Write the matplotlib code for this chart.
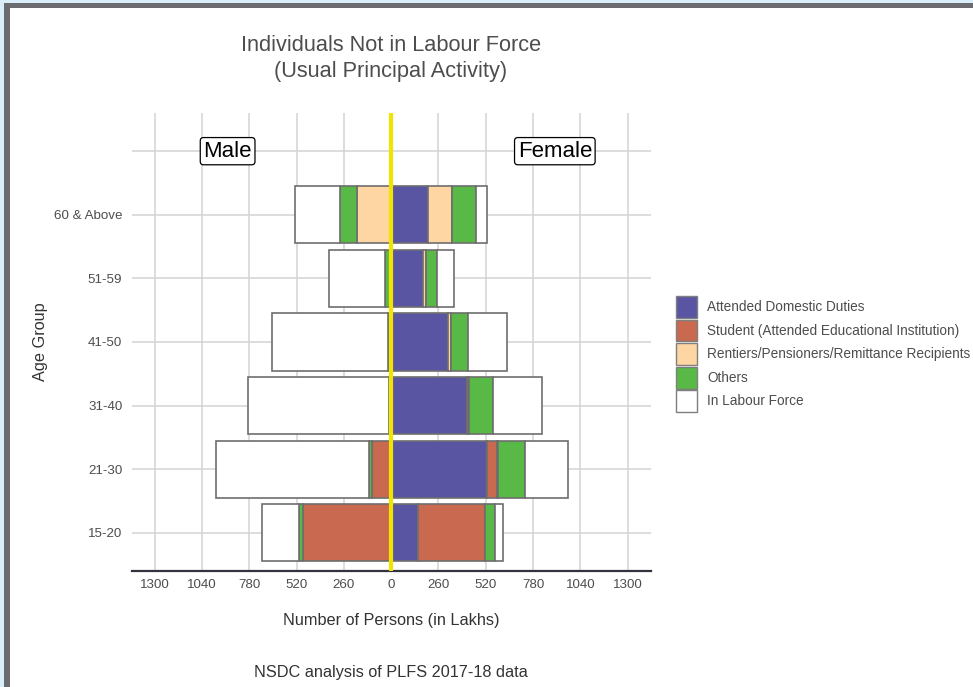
import matplotlib.pyplot as plt
from matplotlib.patches import Patch, Rectangle
import numpy as np

plt.rcParams['font.family'] = ['Liberation Sans', 'DejaVu Sans']

# Age groups, bottom to top
age_groups = ['15-20', '21-30', '31-40', '41-50', '51-59', '60 & Above']

categories = ['Attended Domestic Duties',
              'Student (Attended Educational Institution)',
              'Rentiers/Pensioners/Remittance Recipients',
              'Others',
              'In Labour Force']
colors = ['#5a55a3', '#c96a50', '#fdd6a4', '#59b947', '#ffffff']

# Number of persons (lakhs)
male_domestic = [5, 6, 6, 6, 8, 5]
male_student = [480, 100, 0, 0, 0, 0]
male_rentiers = [0, 0, 0, 0, 0, 183]
male_others = [21, 19, 7, 14, 25, 92]
male_labour = [205, 839, 777, 636, 312, 252]

female_domestic = [150, 526, 416, 315, 174, 205]
female_student = [367, 58, 11, 0, 0, 0]
female_rentiers = [0, 5, 0, 13, 15, 129]
female_others = [53, 146, 132, 97, 62, 133]
female_labour = [44, 240, 271, 214, 95, 59]

xticks = [-1300, -1040, -780, -520, -260, 0, 260, 520, 780, 1040, 1300]

male = [male_domestic, male_student, male_rentiers, male_others, male_labour]
female = [female_domestic, female_student, female_rentiers, female_others, female_labour]

fig = plt.figure(figsize=(9.73, 6.87), dpi=100)

# screenshot frame: light blue edge with dark grey bands top and left
W, H = 973, 687
fig.patches.append(Rectangle((0, 0), 1, 1, transform=fig.transFigure,
                             facecolor='#d9eef8', edgecolor='none', zorder=-10))
fig.patches.append(Rectangle((4 / W, 0), 1, 1 - 3 / H, transform=fig.transFigure,
                             facecolor='#6b6b70', edgecolor='none', zorder=-9))
fig.patches.append(Rectangle((10 / W, 0), 1, 1 - 8 / H, transform=fig.transFigure,
                             facecolor='white', edgecolor='none', zorder=-8))

ax = fig.add_axes([132 / W, 1 - 571 / H, (651 - 132) / W, (571 - 113) / H])
ax.set_facecolor('none')

y = np.arange(len(age_groups))
edge = '#6e6e6e'
left = np.zeros(len(age_groups))
for vals, c in zip(male, colors):
    v = np.array(vals, dtype=float)
    ax.barh(y, -v, left=-left, height=0.9, color=c, edgecolor=edge, linewidth=1.2, zorder=3)
    left += v
left = np.zeros(len(age_groups))
for vals, c in zip(female, colors):
    v = np.array(vals, dtype=float)
    ax.barh(y, v, left=left, height=0.9, color=c, edgecolor=edge, linewidth=1.2, zorder=3)
    left += v

ax.axvline(0, color='#f0e400', lw=3, zorder=6)

ax.set_xlim(-1426, 1429)
ax.set_ylim(-0.6, 6.6)
ax.set_xticks(xticks)
ax.set_xticklabels([str(abs(t)) for t in xticks])
ax.set_yticks(list(y) + [6])
ax.set_yticklabels(age_groups + [''])
ax.tick_params(length=0, labelsize=9.6, labelcolor='#4d4d4d')
ax.tick_params(axis='x', pad=6)
ax.tick_params(axis='y', pad=7)
ax.grid(True, color='#d3d3d3', lw=1.1, zorder=0)
ax.set_axisbelow(True)
for s in ['top', 'right', 'left']:
    ax.spines[s].set_visible(False)
ax.spines['bottom'].set_color('#333340')
ax.spines['bottom'].set_linewidth(1.6)

box = dict(boxstyle='round,pad=0.14,rounding_size=0.15', facecolor='white', edgecolor='black', lw=0.9)
ax.text(-900, 6, 'Male', fontsize=16, ha='center', va='center', bbox=box, zorder=7)
ax.text(900, 6, 'Female', fontsize=16, ha='center', va='center', bbox=box, zorder=7)

cx = 391 / W
fig.text(cx, 1 - 58.5 / H, 'Individuals Not in Labour Force\n(Usual Principal Activity)',
         ha='center', va='center', fontsize=15.7, color='#4d4d4d', linespacing=1.3)
fig.text(cx, 1 - 620 / H, 'Number of Persons (in Lakhs)', ha='center', va='center',
         fontsize=11.7, color='#333333')
fig.text(cx, 1 - 672 / H, 'NSDC analysis of PLFS 2017-18 data', ha='center', va='center',
         fontsize=11.7, color='#333333')
fig.text(40 / W, 1 - 342 / H, 'Age Group', ha='center', va='center', rotation=90,
         fontsize=11.7, color='#333333')

handles = [Patch(facecolor=c, edgecolor='#7f7f7f', lw=1.0, label=l) for c, l in zip(colors, categories)]
fig.legend(handles=handles, loc='upper left', bbox_to_anchor=(676 / W, 1 - 296 / H),
           frameon=False, fontsize=9.8, handlelength=1.55, handleheight=2.1,
           handletextpad=0.75, labelspacing=0.12, borderpad=0, borderaxespad=0,
           labelcolor='#4d4d4d')

fig.savefig('out.png', dpi=100)
